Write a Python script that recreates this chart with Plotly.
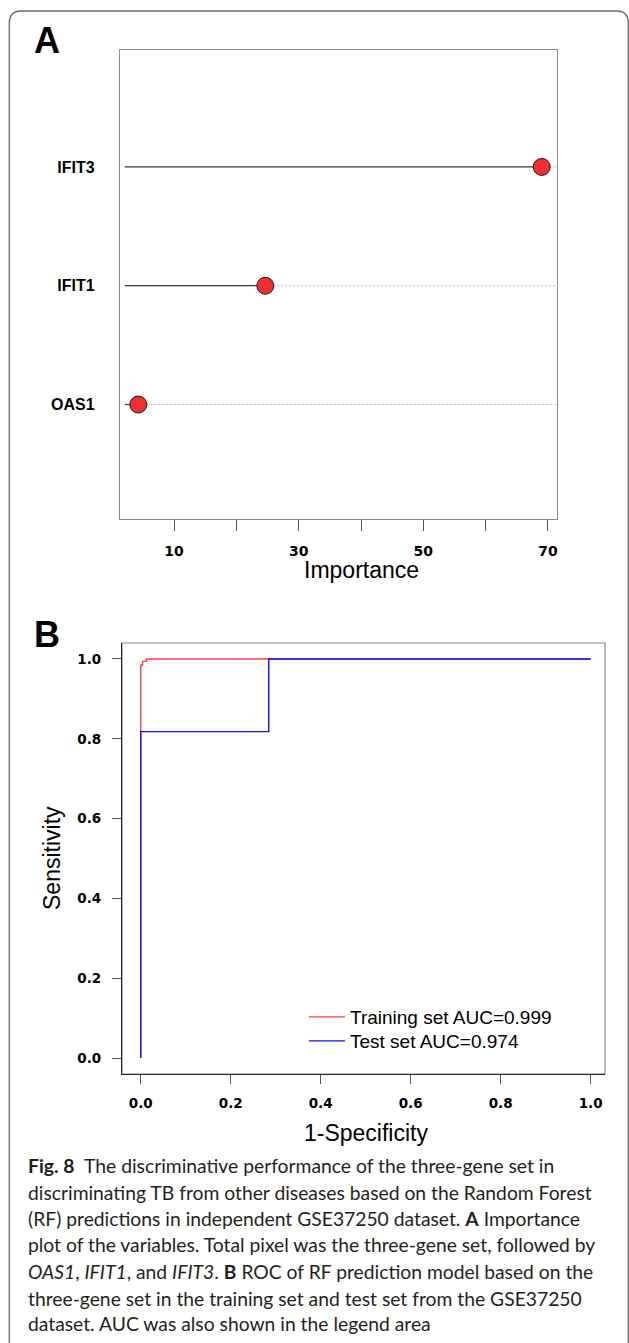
import plotly.graph_objects as go

# ---------------- data ----------------
genes = ["OAS1", "IFIT1", "IFIT3"]
importance = [4.27, 24.65, 69.0]
imp_ticks = [10, 20, 30, 40, 50, 60, 70]
imp_ticklabels = ["10", "", "30", "", "50", "", "70"]

train_fpr = [0.0, 0.0, 0.004, 0.004, 0.013, 0.013, 1.0]
train_tpr = [0.0, 0.985, 0.985, 0.994, 0.994, 1.0, 1.0]
test_fpr = [0.0, 0.0, 0.2845, 0.2845, 1.0]
test_tpr = [0.0, 0.818, 0.818, 1.0, 1.0]
roc_ticks = [0.0, 0.2, 0.4, 0.6, 0.8, 1.0]
roc_ticklabels = ["0.0", "0.2", "0.4", "0.6", "0.8", "1.0"]

train_name = "Training set AUC=0.999"
test_name = "Test set AUC=0.974"

caption_lines = [
    "<b>Fig. 8</b>\u2002The discriminative performance of the three-gene set in",
    "discriminating TB from other diseases based on the Random Forest",
    "(RF) predictions in independent GSE37250 dataset. <b>A</b> Importance",
    "plot of the variables. Total pixel was the three-gene set, followed by",
    "<i>OAS1</i>, <i>IFIT1</i>, and <i>IFIT3</i>. <b>B</b> ROC of RF prediction model based on the",
    "three-gene set in the training set and test set from the GSE37250",
    "dataset. AUC was also shown in the legend area",
]

# ---------------- geometry helpers ----------------
W, H = 629, 1343
def px(x):
    return x / W
def py(y):
    return 1 - y / H

A_XRANGE = [1.33, 71.45]
A_YRANGE = [0.034, 3.984]
LINE_START = 2.1
B_XRANGE = [-0.0416, 1.032]
B_YRANGE = [-0.04, 1.04]

fig = go.Figure()

ypos = list(range(1, len(genes) + 1))

# Panel A: dotted guide lines, solid stems, dots
for g, v, y in zip(genes, importance, ypos):
    fig.add_trace(go.Scatter(x=[v, A_XRANGE[1]], y=[y, y], mode="lines",
                             line=dict(color="#b8b8b8", width=1, dash="2px,2px"),
                             xaxis="x", yaxis="y", showlegend=False, hoverinfo="skip"))
    fig.add_trace(go.Scatter(x=[LINE_START, v], y=[y, y], mode="lines",
                             line=dict(color="#3a3a3a", width=1.2),
                             xaxis="x", yaxis="y", showlegend=False, hoverinfo="skip"))
fig.add_trace(go.Scatter(x=importance, y=ypos, mode="markers",
                         marker=dict(size=17, color="#f03030", line=dict(color="#1a1a1a", width=1)),
                         xaxis="x", yaxis="y", showlegend=False))

# Panel B: ROC curves
fig.add_trace(go.Scatter(x=train_fpr, y=train_tpr, mode="lines", name=train_name,
                         line=dict(color="#ff4040", width=1.4),
                         xaxis="x2", yaxis="y2", legend="legend"))
fig.add_trace(go.Scatter(x=test_fpr, y=test_tpr, mode="lines", name=test_name,
                         line=dict(color="#1010f0", width=1.4),
                         xaxis="x2", yaxis="y2", legend="legend2"))

leg_common = dict(xanchor="left", yanchor="middle", bgcolor="rgba(0,0,0,0)", borderwidth=0,
                  font=dict(family="Liberation Sans", size=19, color="#000"), itemwidth=36)

fig.update_layout(
    width=W, height=H,
    margin=dict(l=0, r=0, t=0, b=0),
    paper_bgcolor="white",
    plot_bgcolor="rgba(0,0,0,0)",
    font=dict(family="Liberation Sans", color="#000"),
    xaxis=dict(domain=[px(120), px(557)], anchor="y", range=A_XRANGE,
               tickvals=imp_ticks, ticktext=imp_ticklabels,
               ticks="outside", ticklen=11, tickcolor="#555", tickwidth=1,
               showline=True, linecolor="#8a8a8a", linewidth=1.2, mirror=True,
               showgrid=False, zeroline=False,
               tickfont=dict(family="DejaVu Sans", size=14, color="#000", weight="bold"),
               ticklabelstandoff=8),
    yaxis=dict(domain=[py(519.3), py(50)], anchor="x", range=A_YRANGE,
               tickvals=ypos, ticktext=genes, ticks="",
               showline=True, linecolor="#8a8a8a", linewidth=1.2, mirror=True,
               showgrid=False, zeroline=False,
               tickfont=dict(family="Liberation Sans", size=16, color="#000", weight="bold"),
               ticklabelstandoff=21),
    xaxis2=dict(domain=[px(122), px(605)], anchor="y2", range=B_XRANGE,
                tickvals=roc_ticks, ticktext=roc_ticklabels,
                ticks="outside", ticklen=9, tickcolor="#555", tickwidth=1,
                showline=True, linecolor="#222", linewidth=1.2, mirror=False,
                showgrid=False, zeroline=False,
                tickfont=dict(family="DejaVu Sans", size=13.5, color="#000", weight="bold"),
                ticklabelstandoff=8),
    yaxis2=dict(domain=[py(1074), py(643)], anchor="x2", range=B_YRANGE,
                tickvals=roc_ticks, ticktext=roc_ticklabels,
                ticks="outside", ticklen=9, tickcolor="#555", tickwidth=1,
                showline=True, linecolor="#222", linewidth=1.2, mirror=False,
                showgrid=False, zeroline=False,
                tickfont=dict(family="DejaVu Sans", size=13.5, color="#000", weight="bold"),
                ticklabelstandoff=8),
    legend=dict(x=px(304), y=py(1017), **leg_common),
    legend2=dict(x=px(304), y=py(1041), **leg_common),
    showlegend=True,
)

# gray box top/right for panel B
fig.add_shape(type="rect", xref="x2 domain", yref="y2 domain", x0=0, x1=1, y0=0, y1=1,
              line=dict(color="#8a8a8a", width=1.2), layer="below")

# outer rounded border
bx0, by0, bx1, by1, r = 9.3, 11, 628.3, 1343, 12
path = (f"M {px(bx0)},{py(by1)} L {px(bx0)},{py(by0 + r)} "
        f"Q {px(bx0)},{py(by0)} {px(bx0 + r)},{py(by0)} "
        f"L {px(bx1 - r)},{py(by0)} Q {px(bx1)},{py(by0)} {px(bx1)},{py(by0 + r)} "
        f"L {px(bx1)},{py(by1)}")
fig.add_shape(type="path", xref="paper", yref="paper", path=path,
              line=dict(color="#6a6a6a", width=1.3))

ann = []
ann.append(dict(text="<b>A</b>", x=px(47), y=py(40), font=dict(size=36, family="Liberation Sans")))
ann.append(dict(text="<b>B</b>", x=px(47), y=py(635), font=dict(size=36, family="Liberation Sans")))
ann.append(dict(text="Importance", x=px(361), y=py(570), font=dict(size=23, family="Liberation Sans")))
ann.append(dict(text="1-Specificity", x=px(366), y=py(1133), font=dict(size=23, family="Liberation Sans")))
ann.append(dict(text="Sensitivity", x=px(52), y=py(858), textangle=-90,
                font=dict(size=23, family="Liberation Sans")))
for a in ann:
    a.update(xref="paper", yref="paper", showarrow=False, xanchor="center", yanchor="middle")
    fig.add_annotation(**a)

cap_y = [1165, 1192, 1218, 1244, 1271, 1298, 1323]
for line, yc in zip(caption_lines, cap_y):
    fig.add_annotation(text=line, x=px(26), y=py(yc), xref="paper", yref="paper",
                       xanchor="left", yanchor="middle", showarrow=False,
                       font=dict(family="Lato", size=19.3, color="#231f20"))

fig.write_html("out.html", config={"displayModeBar": False},
               post_script="document.body.style.margin='0px';")
